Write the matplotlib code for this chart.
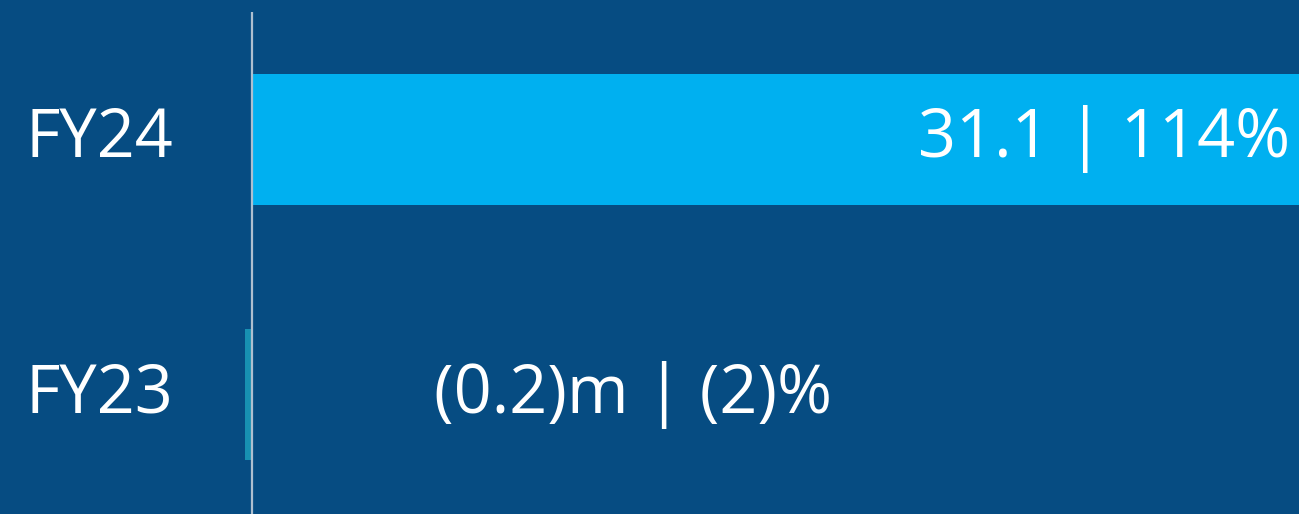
import matplotlib
matplotlib.use("Agg")
import matplotlib.pyplot as plt

categories = ["FY23", "FY24"]
values = [-0.2, 31.1]
value_labels = ["(0.2)m | (2)%", "31.1 | 114%"]
bar_colors = ["#1790b2", "#00b0f0"]

plt.rcParams['font.family'] = ['Open Sans', 'DejaVu Sans']

fig = plt.figure(figsize=(12.99, 5.14), dpi=100)
bg = "#064c82"
fig.patch.set_facecolor(bg)
ax = fig.add_axes([0, 0, 1, 1])
ax.set_facecolor(bg)

ypos = list(range(len(categories)))
ax.barh(ypos, values, height=0.513, color=bar_colors, zorder=2)

ax.set_xlim(-7.485, 31.1)
ax.set_ylim(-0.466, 1.546)

# axis line
ax.plot([0, 0], [-0.466, 1.499], color="#aebfcf", lw=1.6, zorder=3, solid_capstyle='butt')

for y, cat in zip(ypos, categories):
    ax.text(26/1299, y, cat, transform=ax.get_yaxis_transform(), ha='left', va='center',
            color='white', fontsize=48)

# value labels
ax.text(values[1] - 0.25, ypos[1], value_labels[1], ha='right', va='center', color='white', fontsize=48, zorder=4)
ax.text(5.40, ypos[0], value_labels[0], ha='left', va='center', color='white', fontsize=48, zorder=4)

for s in ax.spines.values():
    s.set_visible(False)
ax.set_xticks([])
ax.set_yticks([])

fig.savefig("out.png", dpi=100, facecolor=bg)
